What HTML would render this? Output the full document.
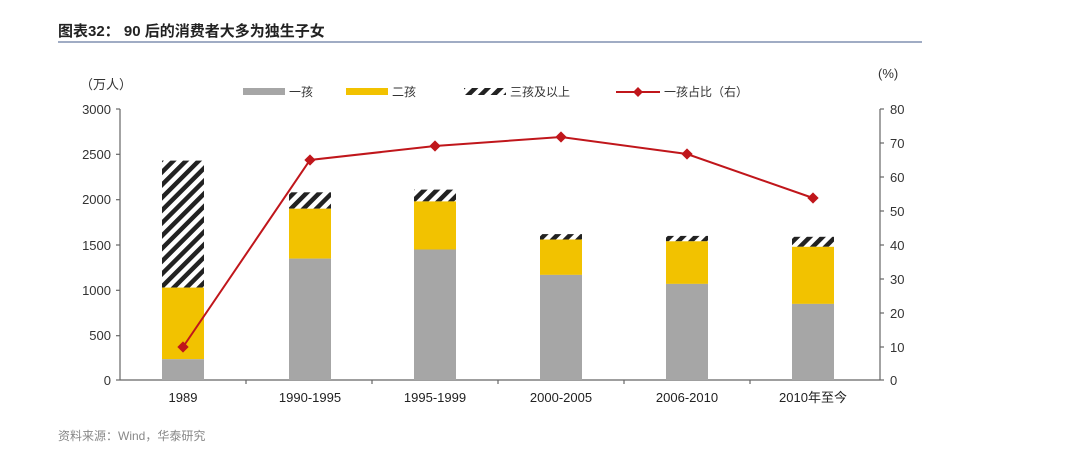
<!DOCTYPE html>
<html><head><meta charset="utf-8"><style>
html,body{margin:0;padding:0;background:#fff;}
svg text{font-family:"Liberation Sans","Noto Sans CJK SC",sans-serif;}
</style></head><body>
<svg width="1080" height="462" viewBox="0 0 1080 462" xmlns="http://www.w3.org/2000/svg">
<defs>
<pattern id="h" patternUnits="userSpaceOnUse" width="9" height="9" patternTransform="rotate(45)">
<rect width="9" height="9" fill="#fff"/><rect width="4.5" height="9" fill="#222"/>
</pattern>
</defs>
<text x="58" y="36" font-size="15" font-weight="bold" fill="#222">图表32： 90 后的消费者大多为独生子女</text>
<line x1="58" y1="42" x2="922" y2="42" stroke="#8090b0" stroke-width="1.5"/>
<text x="80" y="89" font-size="13" fill="#333">（万人）</text>
<text x="878" y="78" font-size="13" fill="#333">(%)</text>
<!-- legend -->
<rect x="243" y="88" width="42" height="7" fill="#a6a6a6"/><text x="289" y="96" font-size="12" fill="#333">一孩</text>
<rect x="346" y="88" width="42" height="7" fill="#f2c200"/><text x="392" y="96" font-size="12" fill="#333">二孩</text>
<rect x="464" y="88" width="42" height="7" fill="url(#h)"/><text x="510" y="96" font-size="12" fill="#333">三孩及以上</text>
<line x1="616" y1="92" x2="660" y2="92" stroke="#c0161b" stroke-width="2"/><rect x="634.5" y="88.5" width="7" height="7" fill="#c0161b" transform="rotate(45 638 92)"/>
<text x="664" y="96" font-size="12" fill="#333">一孩占比（右）</text>
<!-- axes -->
<g stroke="#666" stroke-width="1.2">
<line x1="120" y1="109" x2="120" y2="380"/>
<line x1="880" y1="109" x2="880" y2="380"/>
<line x1="120" y1="380" x2="880" y2="380"/>
<line x1="116" y1="109" x2="120" y2="109"/><line x1="116" y1="154.3" x2="120" y2="154.3"/><line x1="116" y1="199.7" x2="120" y2="199.7"/><line x1="116" y1="245" x2="120" y2="245"/><line x1="116" y1="290.3" x2="120" y2="290.3"/><line x1="116" y1="335.7" x2="120" y2="335.7"/><line x1="116" y1="380" x2="120" y2="380"/>
<line x1="880" y1="109" x2="884" y2="109"/><line x1="880" y1="143" x2="884" y2="143"/><line x1="880" y1="177" x2="884" y2="177"/><line x1="880" y1="211" x2="884" y2="211"/><line x1="880" y1="245" x2="884" y2="245"/><line x1="880" y1="279" x2="884" y2="279"/><line x1="880" y1="313" x2="884" y2="313"/><line x1="880" y1="347" x2="884" y2="347"/><line x1="880" y1="380" x2="884" y2="380"/>
<line x1="246" y1="380" x2="246" y2="384"/><line x1="372" y1="380" x2="372" y2="384"/><line x1="498" y1="380" x2="498" y2="384"/><line x1="624" y1="380" x2="624" y2="384"/><line x1="750" y1="380" x2="750" y2="384"/>
</g>
<g font-size="13" fill="#333" text-anchor="end">
<text x="111" y="114">3000</text><text x="111" y="159">2500</text><text x="111" y="204">2000</text><text x="111" y="250">1500</text><text x="111" y="295">1000</text><text x="111" y="340">500</text><text x="111" y="385">0</text>
</g>
<g font-size="13" fill="#333">
<text x="890" y="114">80</text><text x="890" y="148">70</text><text x="890" y="182">60</text><text x="890" y="216">50</text><text x="890" y="250">40</text><text x="890" y="284">30</text><text x="890" y="318">20</text><text x="890" y="352">10</text><text x="890" y="385">0</text>
</g>
<g font-size="13" fill="#222" text-anchor="middle">
<text x="183" y="402">1989</text><text x="310" y="402">1990-1995</text><text x="435" y="402">1995-1999</text><text x="561" y="402">2000-2005</text><text x="687" y="402">2006-2010</text><text x="813" y="402">2010年至今</text>
</g>
<!-- bars -->
<g>
<rect x="162" y="160.6" width="42" height="127" fill="url(#h)"/><rect x="162" y="287.6" width="42" height="71.6" fill="#f2c200"/><rect x="162" y="359.2" width="42" height="20.8" fill="#a6a6a6"/>
<rect x="289" y="192.3" width="42" height="16.4" fill="url(#h)"/><rect x="289" y="208.7" width="42" height="49.9" fill="#f2c200"/><rect x="289" y="258.6" width="42" height="121.4" fill="#a6a6a6"/>
<rect x="414" y="189.6" width="42" height="11.8" fill="url(#h)"/><rect x="414" y="201.4" width="42" height="48.1" fill="#f2c200"/><rect x="414" y="249.5" width="42" height="130.5" fill="#a6a6a6"/>
<rect x="540" y="234.1" width="42" height="5.4" fill="url(#h)"/><rect x="540" y="239.5" width="42" height="35.4" fill="#f2c200"/><rect x="540" y="274.9" width="42" height="105.1" fill="#a6a6a6"/>
<rect x="666" y="235.9" width="42" height="5.4" fill="url(#h)"/><rect x="666" y="241.3" width="42" height="42.6" fill="#f2c200"/><rect x="666" y="283.9" width="42" height="96.1" fill="#a6a6a6"/>
<rect x="792" y="236.8" width="42" height="10" fill="url(#h)"/><rect x="792" y="246.8" width="42" height="57.1" fill="#f2c200"/><rect x="792" y="303.9" width="42" height="76.1" fill="#a6a6a6"/>
</g>
<polyline points="183,347 310,160 435,146 561,137 687,154 813,198" fill="none" stroke="#c0161b" stroke-width="2"/>
<g fill="#c0161b">
<rect x="179" y="343" width="8" height="8" transform="rotate(45 183 347)"/>
<rect x="306" y="156" width="8" height="8" transform="rotate(45 310 160)"/>
<rect x="431" y="142" width="8" height="8" transform="rotate(45 435 146)"/>
<rect x="557" y="133" width="8" height="8" transform="rotate(45 561 137)"/>
<rect x="683" y="150" width="8" height="8" transform="rotate(45 687 154)"/>
<rect x="809" y="194" width="8" height="8" transform="rotate(45 813 198)"/>
</g>
<text x="58" y="440" font-size="12" fill="#888">资料来源：Wind，华泰研究</text>
</svg>
</body></html>
